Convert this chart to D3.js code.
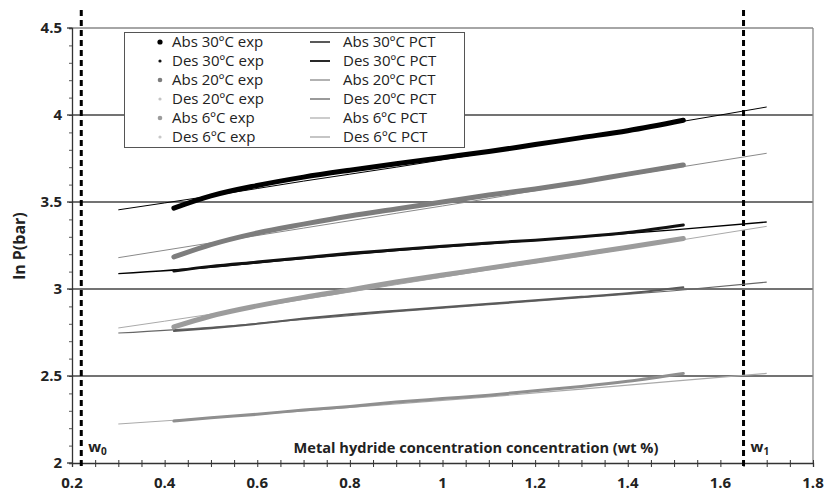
<!DOCTYPE html>
<html>
<head>
    <title>ln P vs metal hydride concentration</title>
    <style type="text/css">
        body { margin: 0; background: #fff; }
        svg text { font-family: "Open Sans", "DejaVu Sans", sans-serif; fill: #222; }
        .tick-label { font-size: 15px; font-weight: bold; }
        .legend text { font-size: 15px; }
    </style>
</head>
<body>
<script src="https://d3js.org/d3.v7.min.js" type="text/javascript"></script>
<script type="text/javascript">

    // experimental curves (x = wt %, y = ln P)
    var expX = [0.42, 0.5, 0.6, 0.7, 0.8, 0.9, 1.0, 1.1, 1.2, 1.3, 1.4, 1.52];
    var abs30exp = [3.465, 3.535, 3.595, 3.643, 3.683, 3.72, 3.755, 3.79, 3.83, 3.87, 3.91, 3.97];
    var des30exp = [3.103, 3.13, 3.155, 3.18, 3.205, 3.225, 3.245, 3.265, 3.28, 3.30, 3.325, 3.368];
    var abs20exp = [3.184, 3.255, 3.322, 3.373, 3.42, 3.46, 3.50, 3.54, 3.575, 3.615, 3.66, 3.713];
    var des20exp = [2.759, 2.775, 2.80, 2.83, 2.855, 2.875, 2.895, 2.915, 2.935, 2.955, 2.975, 3.01];
    var abs6exp  = [2.782, 2.845, 2.903, 2.952, 2.995, 3.04, 3.08, 3.12, 3.16, 3.20, 3.24, 3.29];
    var des6exp  = [2.241, 2.26, 2.28, 2.305, 2.325, 2.35, 2.37, 2.39, 2.415, 2.44, 2.47, 2.515];

    // PCT model curves
    var pctX = [0.3, 0.5, 0.7, 0.9, 1.1, 1.3, 1.5, 1.7];
    var abs30pct = [3.455, 3.535, 3.62, 3.70, 3.785, 3.87, 3.955, 4.046];
    var des30pct = [3.088, 3.125, 3.175, 3.22, 3.26, 3.30, 3.34, 3.385];
    var abs20pct = [3.18, 3.265, 3.35, 3.435, 3.52, 3.61, 3.695, 3.78];
    var des20pct = [2.747, 2.78, 2.825, 2.87, 2.91, 2.95, 2.99, 3.04];
    var abs6pct  = [2.776, 2.855, 2.94, 3.025, 3.11, 3.19, 3.275, 3.36];
    var des6pct  = [2.224, 2.26, 2.30, 2.34, 2.38, 2.425, 2.47, 2.515];

    var xTicks = [0.2, 0.4, 0.6, 0.8, 1, 1.2, 1.4, 1.6, 1.8];
    var yTicks = [2, 2.5, 3, 3.5, 4, 4.5];
    var wLines = [0.22, 1.65];

    var svg = d3.select('body').append('svg')
        .attr('width', 824)
        .attr('height', 492);

    var x = d3.scaleLinear().domain([0.2, 1.8]).range([72, 813]);
    var y = d3.scaleLinear().domain([2, 4.5]).range([463, 28]);

    // gridlines
    svg.append('g').selectAll('line')
        .data(yTicks.filter(function (d) { return d > 2; }))
        .enter().append('line')
        .attr('x1', x(0.2)).attr('x2', x(1.8))
        .attr('y1', function (d) { return y(d); })
        .attr('y2', function (d) { return y(d); })
        .attr('stroke', function (d) { return d === 4.5 ? '#888' : '#444'; })
        .attr('stroke-width', 1.3);

    // right border
    svg.append('line')
        .attr('x1', x(1.8)).attr('x2', x(1.8))
        .attr('y1', y(4.5)).attr('y2', y(2))
        .attr('stroke', '#888').attr('stroke-width', 1.3);

    // axes
    var xAxis = d3.axisBottom(x).tickValues(d3.range(0.2, 1.8001, 0.05)).tickSize(4).tickFormat('');
    var gx = svg.append('g').attr('transform', 'translate(0,' + y(2) + ')').call(xAxis);
    gx.select('.domain').attr('stroke', '#333').attr('stroke-width', 1.3);
    gx.selectAll('.tick line').attr('stroke', '#333').attr('y1', -3);

    svg.append('g').selectAll('text')
        .data(xTicks).enter().append('text')
        .attr('class', 'tick-label')
        .attr('x', function (d) { return x(d); })
        .attr('y', 488)
        .attr('text-anchor', 'middle')
        .text(function (d) { return d; });

    var yAxis = d3.axisLeft(y).tickValues(d3.range(2, 4.5001, 0.1)).tickSize(3).tickFormat('');
    var gy = svg.append('g').attr('transform', 'translate(' + x(0.2) + ',0)').call(yAxis);
    gy.select('.domain').attr('stroke', '#333').attr('stroke-width', 1.3);
    gy.selectAll('.tick line').attr('stroke', '#555');

    svg.append('g').selectAll('line')
        .data(yTicks).enter().append('line')
        .attr('x1', x(0.2) - 5).attr('x2', x(0.2))
        .attr('y1', function (d) { return y(d); })
        .attr('y2', function (d) { return y(d); })
        .attr('stroke', '#333').attr('stroke-width', 1.3);

    svg.append('g').selectAll('text')
        .data(yTicks).enter().append('text')
        .attr('class', 'tick-label')
        .attr('x', 62)
        .attr('y', function (d) { return y(d) + 5; })
        .attr('text-anchor', 'end')
        .text(function (d) { return d; });

    // axis titles
    svg.append('text')
        .attr('transform', 'translate(25,246) rotate(-90)')
        .attr('text-anchor', 'middle')
        .style('font-size', '16px').style('font-weight', 'bold')
        .text('ln P(bar)');

    svg.append('text')
        .attr('x', 476).attr('y', 453)
        .attr('text-anchor', 'middle')
        .style('font-size', '14.6px').style('font-weight', 'bold')
        .text('Metal hydride concentration concentration (wt %)');

    // w0 / w1 dashed lines
    svg.append('g').selectAll('line')
        .data(wLines).enter().append('line')
        .attr('x1', function (d) { return x(d); })
        .attr('x2', function (d) { return x(d); })
        .attr('y1', 10).attr('y2', 470)
        .attr('stroke', '#000').attr('stroke-width', 3)
        .attr('stroke-dasharray', '6,4');

    var wLabels = svg.append('g').selectAll('text')
        .data(wLines).enter().append('text')
        .attr('x', function (d) { return x(d) + 7; })
        .attr('y', 452)
        .style('font-size', '15px').style('font-weight', 'bold');
    wLabels.append('tspan').text('w');
    wLabels.append('tspan')
        .attr('dy', 3).style('font-size', '10px')
        .text(function (d, i) { return i; });

    var line = d3.line()
        .x(function (d) { return x(d[0]); })
        .y(function (d) { return y(d[1]); })
        .curve(d3.curveMonotoneX);

    function pairs(xs, ys) { return xs.map(function (v, i) { return [v, ys[i]]; }); }

    var pctSeries = [
        { name: 'Abs 30ºC PCT', data: abs30pct, color: '#000', w: 1 },
        { name: 'Des 30ºC PCT', data: des30pct, color: '#000', w: 1.3 },
        { name: 'Abs 20ºC PCT', data: abs20pct, color: '#8a8a8a', w: 1 },
        { name: 'Des 20ºC PCT', data: des20pct, color: '#666', w: 1.2 },
        { name: 'Abs 6ºC PCT', data: abs6pct, color: '#aaa', w: 1 },
        { name: 'Des 6ºC PCT', data: des6pct, color: '#aaa', w: 1.2 }
    ];
    var expSeries = [
        { name: 'Abs 30ºC exp', data: abs30exp, color: '#000', w: 5, r: 2.6 },
        { name: 'Des 30ºC exp', data: des30exp, color: '#111', w: 3, r: 1.6 },
        { name: 'Abs 20ºC exp', data: abs20exp, color: '#7d7d7d', w: 5, r: 2.3 },
        { name: 'Des 20ºC exp', data: des20exp, color: '#5a5a5a', w: 2, r: 1.6 },
        { name: 'Abs 6ºC exp', data: abs6exp, color: '#9c9c9c', w: 5, r: 2.3 },
        { name: 'Des 6ºC exp', data: des6exp, color: '#8f8f8f', w: 3, r: 1.6 }
    ];

    svg.append('g').selectAll('path')
        .data(pctSeries).enter().append('path')
        .attr('d', function (s) { return line(pairs(pctX, s.data)); })
        .attr('fill', 'none')
        .attr('stroke', function (s) { return s.color; })
        .attr('stroke-width', function (s) { return s.w; });

    svg.append('g').selectAll('path')
        .data(expSeries).enter().append('path')
        .attr('d', function (s) { return line(pairs(expX, s.data)); })
        .attr('fill', 'none')
        .attr('stroke', function (s) { return s.color; })
        .attr('stroke-width', function (s) { return s.w; })
        .attr('stroke-linecap', 'round');

    // legend
    var lg = svg.append('g').attr('class', 'legend');
    lg.append('rect')
        .attr('x', 124.5).attr('y', 32.5)
        .attr('width', 340).attr('height', 115)
        .attr('fill', '#fff').attr('stroke', '#555').attr('stroke-width', 1);

    var rowY = function (i) { return 42 + i * 19; };

    lg.selectAll('circle')
        .data(expSeries).enter().append('circle')
        .attr('cx', 160)
        .attr('cy', function (s, i) { return rowY(i); })
        .attr('r', function (s) { return s.r; })
        .attr('fill', function (s, i) { return i === 3 ? '#c4c4c4' : (i === 5 ? '#c8c8c8' : s.color); });

    lg.selectAll('text.e')
        .data(expSeries).enter().append('text')
        .attr('class', 'e')
        .attr('x', 172)
        .attr('y', function (s, i) { return rowY(i) + 5; })
        .text(function (s) { return s.name; });

    lg.selectAll('line')
        .data(pctSeries).enter().append('line')
        .attr('x1', 310).attr('x2', 330)
        .attr('y1', function (s, i) { return rowY(i); })
        .attr('y2', function (s, i) { return rowY(i); })
        .attr('stroke', function (s, i) { return ['#222', '#111', '#999', '#888', '#bbb', '#bbb'][i]; })
        .attr('stroke-width', function (s) { return s.w + 0.5; });

    lg.selectAll('text.p')
        .data(pctSeries).enter().append('text')
        .attr('class', 'p')
        .attr('x', 343)
        .attr('y', function (s, i) { return rowY(i) + 5; })
        .text(function (s) { return s.name; });

</script>
</body>
</html>
